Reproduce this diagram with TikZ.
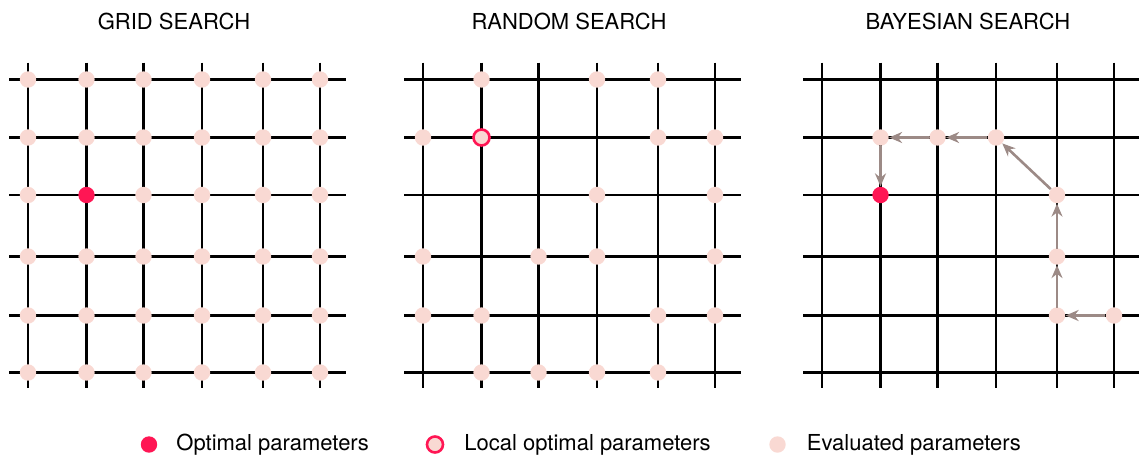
\documentclass[tikz,border=0pt]{standalone}
\usepackage{fontspec}
\setmainfont{TeX Gyre Heros}
\definecolor{optred}{RGB}{255,22,84}
\definecolor{evalpink}{RGB}{249,217,211}
\definecolor{pathgray}{RGB}{156,138,134}
\usetikzlibrary{arrows.meta,positioning}

\begin{document}
\begin{tikzpicture}[x=0.5pt,y=-0.5pt,
  gridline/.style={line width=1.1pt,black},
  evaldot/.style={circle,fill=evalpink,minimum size=8.2pt,inner sep=0pt},
  optdot/.style={circle,fill=optred,minimum size=8.2pt,inner sep=0pt},
  localdot/.style={circle,fill=evalpink,draw=optred,line width=1.3pt,
    minimum size=8pt,inner sep=0pt},
  bayarrow/.style={-{Stealth[length=6.5pt,width=5.5pt]},line width=1.3pt,pathgray},
  paneltitle/.style={font=\fontsize{11}{13}\selectfont,anchor=base},
  legendtext/.style={font=\fontsize{11}{13}\selectfont,anchor=base west,inner sep=0pt}
]
  \useasboundingbox (0,0) rectangle (1139,455);

  % Titles
  \node[paneltitle] (tgrid) at (174,29.5) {GRID SEARCH};
  \node[paneltitle] (trand) at (569,29.5) {RANDOM SEARCH};
  \node[paneltitle] (tbay) at (968,29.5) {BAYESIAN SEARCH};

  % Grids
  \foreach \ox in {0,395,794} {
    \foreach \x in {28,86.5,143.5,202,263,320}
      \draw[gridline] (\ox+\x,62.5) -- (\ox+\x,387.5);
    \foreach \y in {79.5,137.5,195,256.5,315.5,372.5}
      \draw[gridline] (\ox+9,\y) -- (\ox+346,\y);
  }

  % Left: grid search
  \foreach \x [count=\i] in {28,86.5,143.5,202,263,320}
    \foreach \y [count=\j] in {79.5,137.5,195,256.5,315.5,372.5} {
      \ifnum\i\j=23
        \node[optdot] (gopt) at (\x,\y) {};
      \else
        \node[evaldot] (g\i\j) at (\x,\y) {};
      \fi
    }

  % Center: random search
  \foreach \x/\y [count=\k] in {481.5/79.5,597/79.5,658/79.5,
      423/137.5,658/137.5,715/137.5,
      597/195,715/195,
      423/256.5,538.5/256.5,597/256.5,715/256.5,
      423/315.5,481.5/315.5,658/315.5,715/315.5,
      481.5/372.5,538.5/372.5,597/372.5,658/372.5}
    \node[evaldot] (r\k) at (\x,\y) {};
  \node[localdot] (rlocal) at (481.5,137.5) {};

  % Right: bayesian search
  \node[evaldot] (b1) at (1114,315.5) {};
  \node[evaldot] (b2) at (1057,315.5) {};
  \node[evaldot] (b3) at (1057,256.5) {};
  \node[evaldot] (b4) at (1057,195) {};
  \node[evaldot] (b5) at (996,137.5) {};
  \node[evaldot] (b6) at (937.5,137.5) {};
  \node[evaldot] (b7) at (880.5,137.5) {};
  \node[optdot] (bopt) at (880.5,195) {};

  \draw[bayarrow] (b1) -- (b2);
  \draw[bayarrow] (b2) -- (b3);
  \draw[bayarrow] (b3) -- (b4);
  \draw[bayarrow] (b4) -- (b5);
  \draw[bayarrow] (b5) -- (b6);
  \draw[bayarrow] (b6) -- (b7);
  \draw[bayarrow] (b7) -- (bopt);

  % Legend
  \node[optdot] (lgopt) at (149,444.5) {};
  \node[legendtext] (lgopttxt) at (176,450) {Optimal parameters};
  \node[localdot] (lglocal) at (435,444.5) {};
  \node[legendtext] (lglocaltxt) at (464,450) {Local optimal parameters};
  \node[evaldot] (lgeval) at (777.5,444.5) {};
  \node[legendtext] (lgevaltxt) at (806.5,450) {Evaluated parameters};
\end{tikzpicture}
\end{document}
